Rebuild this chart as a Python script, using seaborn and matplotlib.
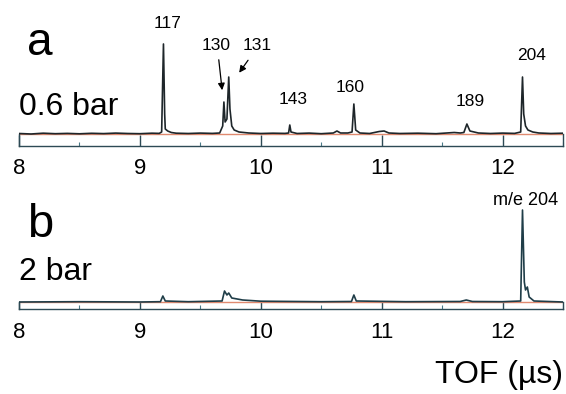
import numpy as np
import pandas as pd
import matplotlib
matplotlib.use("Agg")
import matplotlib.pyplot as plt
import seaborn as sns

# TOF trace, panel a (0.6 bar); intensity in arbitrary units above baseline
tof_a = [8.00, 8.10, 8.20, 8.30, 8.40, 8.50, 8.60, 8.70, 8.80, 8.90, 9.00,
         9.10, 9.16, 9.18, 9.195, 9.205, 9.21, 9.23, 9.26, 9.30, 9.40, 9.50,
         9.60, 9.66, 9.685, 9.695, 9.705, 9.72, 9.735, 9.745, 9.76, 9.78,
         9.82, 9.90, 10.00, 10.10, 10.20, 10.23, 10.24, 10.25, 10.30, 10.40,
         10.50, 10.60, 10.63, 10.66, 10.72, 10.755, 10.77, 10.785, 10.82,
         10.90, 10.98, 11.02, 11.06, 11.15, 11.30, 11.45, 11.60, 11.65,
         11.68, 11.705, 11.73, 11.80, 11.90, 12.00, 12.10, 12.15, 12.165,
         12.175, 12.19, 12.21, 12.25, 12.30, 12.40, 12.50]
int_a = [0.5, 0.0, 0.8, 0.3, 0.6, 0.2, 0.7, 0.4, 0.9, 0.5, 0.3,
         0.8, 0.6, 2.0, 90.0, 20.0, 5.0, 3.0, 1.5, 0.8, 0.5, 0.9,
         0.6, 1.0, 8.0, 32.0, 12.0, 15.0, 57.0, 25.0, 8.0, 4.0,
         2.0, 1.0, 0.5, 0.8, 0.6, 1.0, 9.0, 2.0, 0.5, 0.9,
         0.3, 1.0, 3.0, 1.0, 1.0, 2.0, 30.0, 4.0, 1.0,
         0.5, 2.5, 3.0, 1.0, 0.5, 0.8, 0.3, 1.5, 1.0,
         1.5, 10.0, 3.0, 1.0, 0.5, 0.9, 0.6, 2.0, 57.0,
         20.0, 8.0, 4.0, 2.0, 1.0, 0.5, 0.8]

# TOF trace, panel b (2 bar)
tof_b = [8.00, 8.50, 9.00, 9.17, 9.19, 9.21, 9.40, 9.68, 9.70, 9.72, 9.735,
         9.76, 9.85, 10.00, 10.50, 10.75, 10.77, 10.79, 11.20, 11.65, 11.70,
         11.75, 12.00, 12.15, 12.165, 12.18, 12.19, 12.205, 12.22, 12.26,
         12.50]
int_b = [0.0, 0.3, 0.0, 0.3, 6.0, 1.0, 0.3, 1.0, 11.0, 7.0, 9.0,
         4.0, 2.0, 0.8, 0.3, 0.5, 7.0, 1.0, 0.3, 0.5, 2.0,
         0.5, 0.3, 1.0, 92.0, 20.0, 12.0, 15.0, 5.0, 1.0,
         0.0]

# peak labels (panel a): text, x, y
peak_labels = ["117", "143", "160", "189", "204"]
peak_x = [9.225, 10.267, 10.742, 11.733, 12.242]
peak_y = [111, 34, 47, 32, 79]

ticks_major = [8, 9, 10, 11, 12]
ticks_minor = [8.5, 9.5, 10.5, 11.5, 12.5]

sns.set_style("white")
plt.rcParams["font.family"] = ["Liberation Sans", "DejaVu Sans"]
plt.rcParams["text.color"] = "black"
plt.rcParams["xtick.color"] = "black"

W, H = 566, 394
fig = plt.figure(figsize=(W / 100, H / 100), dpi=100)


def make_ax(top, bottom, base, tick_len):
    ax = fig.add_axes([19 / W, 1 - bottom / H, 544 / W, (bottom - top) / H])
    ax.set_xlim(8, 12.5)
    ax.set_ylim(-(bottom - base), base - top)
    ax.patch.set_alpha(0)
    ax.spines["top"].set_visible(False)
    for s in ["left", "right"]:
        ax.spines[s].set_bounds(-(bottom - base), 0)
    for s in ["left", "right", "bottom"]:
        ax.spines[s].set_color("#2d4a55")
        ax.spines[s].set_linewidth(1.0)
    ax.set_yticks([])
    ax.set_xticks(ticks_major)
    ax.set_xticks(ticks_minor, minor=True)
    ax.set_xticklabels([str(t) for t in ticks_major])
    ax.tick_params(axis="x", which="major", direction="in", length=tick_len,
                   width=1.0, color="#2d4a55", labelsize=16, pad=9,
                   labelcolor="black", bottom=True)
    ax.tick_params(axis="x", which="minor", direction="in", length=3,
                   width=0.8, color="#4a7a88", bottom=True)
    ax.axhline(0, color="#e08a70", lw=1.0, zorder=1)
    return ax


ax_a = make_ax(10, 146, 134, 8)
ax_b = make_ax(190, 309, 302, 5)

df_a = pd.DataFrame({"tof": tof_a, "intensity": int_a})
df_b = pd.DataFrame({"tof": tof_b, "intensity": int_b})
sns.lineplot(data=df_a, x="tof", y="intensity", ax=ax_a, color="#1e262a",
             lw=1.2, zorder=3)
sns.lineplot(data=df_b, x="tof", y="intensity", ax=ax_b, color="#1f3d48",
             lw=1.2, zorder=3)
for ax in (ax_a, ax_b):
    ax.set_xlabel("")
    ax.set_ylabel("")
    ax.set_yticks([])

for t, x, y in zip(peak_labels, peak_x, peak_y):
    ax_a.text(x, y, t, ha="center", va="center", fontsize=12.5)

# labels with arrows for 130 and 131
ax_a.annotate("", xy=(9.683, 41), xytext=(9.65, 77),
              arrowprops=dict(arrowstyle="-|>", color="black", lw=0.9,
                              mutation_scale=10))
ax_a.annotate("", xy=(9.808, 59), xytext=(9.908, 76),
              arrowprops=dict(arrowstyle="-|>", color="black", lw=0.9,
                              mutation_scale=10))
ax_a.text(9.633, 89, "130", ha="center", va="center", fontsize=12.5)
ax_a.text(9.967, 89, "131", ha="center", va="center", fontsize=12.5)

ax_a.text(8.07, 79, "a", ha="left", va="baseline", fontsize=33)
ax_a.text(8.0, 19, "0.6 bar", ha="left", va="baseline", fontsize=23)
ax_b.text(8.07, 65, "b", ha="left", va="baseline", fontsize=34)
ax_b.text(8.0, 22, "2 bar", ha="left", va="baseline", fontsize=23)
ax_b.text(12.19, 97, "m/e 204", ha="center", va="baseline", fontsize=13)

fig.text(563 / W, 1 - 383 / H, "TOF (µs)", ha="right", va="baseline",
         fontsize=23)

fig.savefig("out.png", dpi=100)
